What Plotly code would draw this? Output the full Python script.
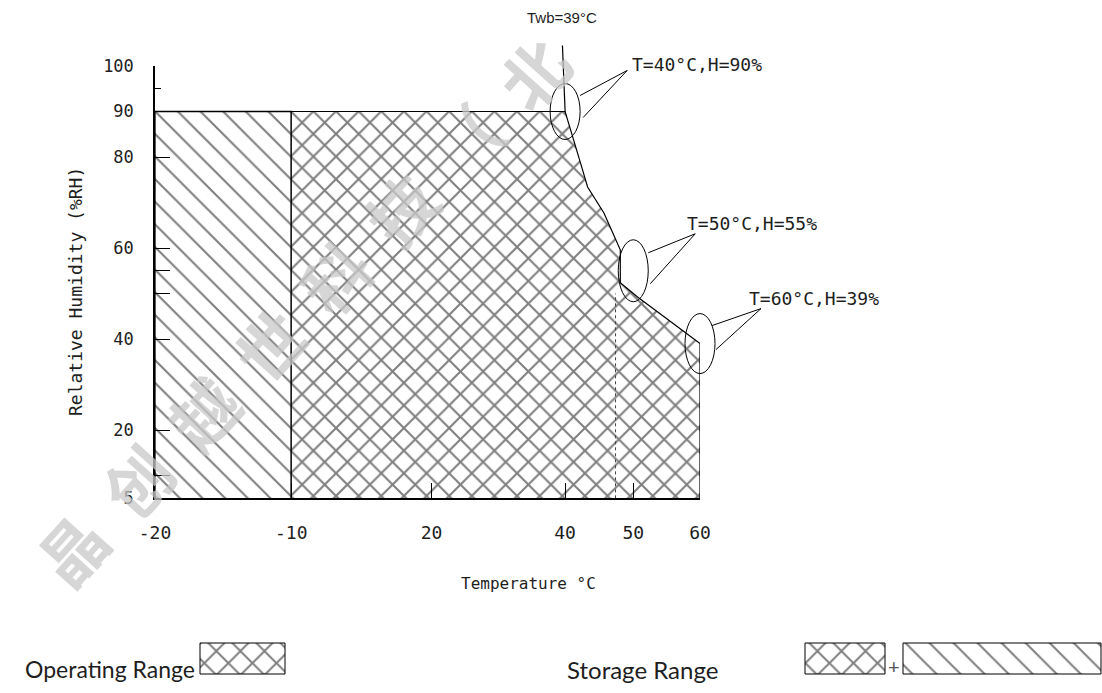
import numpy as np
import plotly.graph_objects as go

# ---------------- data ----------------
temp_ticks = [-20, -10, 20, 40, 50, 60]            # x tick labels (°C)
rh_ticks = [5, 20, 40, 60, 80, 90, 100]             # y tick labels (%RH)
rh_marks_major = [100, 80, 60, 55, 50, 20, 10]      # long inner ticks
rh_marks_minor = [95, 40]                           # short inner ticks

# storage-only region (diagonal hatch)
storage_t = [-20, -20, -10, -10]
storage_h = [5, 90, 90, 5]

# operating range boundary (cross hatch)
op_t = [-10, -10, 40, 41.3, 42.2, 43.3, 45.7, 48.1, 48.1, 50.6, 60, 60]
op_h = [5, 90, 90, 83.7, 79.0, 73.4, 67.7, 59.6, 52.4, 49.3, 39, 5]

# callouts
call_t = [40, 50, 60]
call_h = [90, 55, 39]
call_text = ["T=40°C,H=90%", "T=50°C,H=55%", "T=60°C,H=39%"]

twb_t = [39.6, 40]
twb_h = [104.5, 90]
twb_label = "Twb=39°C"

seam_t = 47.4
seam_h = [5, 50]

watermark = "晶创越世科技（北"

# ---------------- scale (non-linear temperature axis) ----------------
axis_pos = [0, 1, 2.03, 3.01, 3.51, 4.0]


def tx(t):
    return np.interp(t, temp_ticks, axis_pos)


W, H = 1102, 693
xd = [155 / W, 700 / W]
yd = [(H - 498.3) / H, (H - 66) / H]
XR = [0, 4.0]
YR = [5, 100]


def paper_x(t):
    return xd[0] + (tx(t) - XR[0]) / (XR[1] - XR[0]) * (xd[1] - xd[0])


def paper_y(h):
    return yd[0] + (h - YR[0]) / (YR[1] - YR[0]) * (yd[1] - yd[0])


MONO = "DejaVu Sans Mono"
INK = "#1e1e1e"

fig = go.Figure()

fig.add_trace(go.Scatter(
    x=tx(storage_t), y=storage_h, mode="lines", fill="toself",
    fillcolor="white",
    fillpattern=dict(shape="\\", size=16, solidity=0.13, fgcolor="black", bgcolor="white"),
    line=dict(color="black", width=1.3), hoverinfo="skip", showlegend=False))

fig.add_trace(go.Scatter(
    x=tx(op_t), y=op_h, mode="lines", fill="toself",
    fillcolor="white",
    fillpattern=dict(shape="x", size=16, solidity=0.24, fgcolor="black", bgcolor="white"),
    line=dict(color="black", width=1.2), hoverinfo="skip", showlegend=False))

# dotted seam
fig.add_trace(go.Scatter(
    x=tx([seam_t, seam_t]), y=seam_h, mode="lines",
    line=dict(color="#444", width=1, dash="dot"), hoverinfo="skip", showlegend=False))

shapes = []
annotations = []

# Twb line
shapes.append(dict(type="line", xref="paper", yref="paper",
                   x0=paper_x(twb_t[0]), y0=paper_y(twb_h[0]),
                   x1=paper_x(twb_t[1]), y1=paper_y(twb_h[1]),
                   line=dict(color="black", width=1.2)))
annotations.append(dict(xref="paper", yref="paper", x=paper_x(twb_t[0]), y=paper_y(twb_h[0]),
                        yshift=28, text=twb_label, showarrow=False,
                        xanchor="center", yanchor="middle",
                        font=dict(family="Liberation Sans", size=15, color=INK)))

# callout bubbles + wedges + labels
bubble_sizes = [(15, 28), (15, 31), (15, 30)]
wedges = [[(15, 16), (62, 41), (18, -6)],
          [(15, 18), (62, 37), (17, -13)],
          [(12, 18), (61, 35), (16, -6)]]
label_off = [(65, 47), (52, 47), (47, 45)]
for t, h, txt, bs, wd, lo in zip(call_t, call_h, call_text, bubble_sizes, wedges, label_off):
    ax_, ay_ = paper_x(t), paper_y(h)
    shapes.append(dict(type="circle", xref="paper", yref="paper",
                       xsizemode="pixel", ysizemode="pixel", xanchor=ax_, yanchor=ay_,
                       x0=-bs[0], x1=bs[0], y0=-bs[1], y1=bs[1],
                       line=dict(color="black", width=1)))
    path = "M {},{} L {},{} L {},{}".format(*[v for p in wd for v in p])
    shapes.append(dict(type="path", xref="paper", yref="paper",
                       xsizemode="pixel", ysizemode="pixel", xanchor=ax_, yanchor=ay_,
                       path=path, line=dict(color="black", width=1)))
    annotations.append(dict(xref="paper", yref="paper", x=ax_, y=ay_,
                            xshift=lo[0], yshift=lo[1], xanchor="left", yanchor="middle",
                            text=txt, showarrow=False,
                            font=dict(family=MONO, size=18, color=INK)))

# axis titles
annotations.append(dict(xref="paper", yref="paper", x=75 / W, y=1 - 292 / H,
                        xanchor="center", yanchor="middle",
                        text="Relative Humidity (%RH)", textangle=-90, showarrow=False,
                        font=dict(family=MONO, size=18, color=INK)))
annotations.append(dict(xref="paper", yref="paper", x=528 / W, y=1 - 583 / H,
                        xanchor="center", yanchor="middle",
                        text="Temperature °C", showarrow=False,
                        font=dict(family=MONO, size=16, color=INK)))

# legend (bottom)
legend_boxes = [(200, 285, "x"), (805, 885, "x"), (903, 1101, "\\")]
for x0, x1, shp in legend_boxes:
    fig.add_trace(go.Scatter(
        x=[x0, x0, x1, x1, x0], y=[19, 50, 50, 19, 19], xaxis="x2", yaxis="y2",
        mode="lines", fill="toself", fillcolor="white",
        fillpattern=dict(shape=shp, size=17, solidity=0.22 if shp == "x" else 0.12,
                         fgcolor="black", bgcolor="white"),
        line=dict(color="black", width=1), hoverinfo="skip", showlegend=False))
annotations.append(dict(xref="paper", yref="paper", x=197 / W, y=1 - 669 / H,
                        xanchor="right", yanchor="middle",
                        text="Operating Range", showarrow=False,
                        font=dict(family="Lato", size=23, color=INK)))
annotations.append(dict(xref="paper", yref="paper", x=642 / W, y=1 - 669 / H,
                        xanchor="center", yanchor="middle",
                        text="Storage Range", showarrow=False,
                        font=dict(family="Lato", size=24, color=INK)))
annotations.append(dict(xref="paper", yref="paper", x=894 / W, y=1 - 666 / H,
                        xanchor="center", yanchor="middle",
                        text="+", showarrow=False,
                        font=dict(family="Lato", size=20, color="#555")))

# watermark
for i, ch in enumerate(watermark):
    cx, cy = 70 + 66 * i, 548 - 68 * i
    annotations.append(dict(xref="paper", yref="paper", x=cx / W, y=1 - cy / H,
                            xanchor="center", yanchor="middle",
                            text=ch, textangle=-48, showarrow=False,
                            font=dict(family="Noto Sans CJK SC", size=66, weight=700,
                                      color="rgba(200,200,200,0.75)")))

y_vals = sorted(set(rh_ticks + rh_marks_major))
y_text = [str(v) if v in rh_ticks else "" for v in y_vals]

fig.update_layout(
    width=W, height=H, margin=dict(l=0, r=0, t=0, b=0, autoexpand=False),
    plot_bgcolor="white", paper_bgcolor="white",
    xaxis=dict(domain=xd, range=XR, tickvals=list(tx(temp_ticks)), automargin=False,
               ticktext=[str(v) for v in temp_ticks], ticks="inside", ticklen=16,
               tickcolor="black", tickwidth=1.2, showline=True, linecolor="black",
               linewidth=1.5, showgrid=False, zeroline=False, ticklabelstandoff=17,
               tickfont=dict(family=MONO, size=18, color=INK)),
    yaxis=dict(domain=yd, range=YR, tickvals=y_vals, ticktext=y_text, ticks="inside",
               ticklen=15, tickcolor="black", tickwidth=1.2, showline=True, automargin=False,
               linecolor="black", linewidth=1.5, showgrid=False, zeroline=False,
               ticklabelstandoff=16,
               minor=dict(tickvals=rh_marks_minor, ticks="inside", ticklen=6,
                          tickcolor="black", tickwidth=1.2, showgrid=False),
               tickfont=dict(family=MONO, size=17, color=INK)),
    xaxis2=dict(domain=[0, 1], range=[0, W], visible=False, anchor="y2", automargin=False),
    yaxis2=dict(domain=[0, 90 / H], range=[0, 90], visible=False, anchor="x2", automargin=False),
    shapes=shapes, annotations=annotations,
)

post = "document.body.style.margin='0';document.body.style.overflow='hidden';"
fig.write_html("out.html", config={"displayModeBar": False}, post_script=post)
